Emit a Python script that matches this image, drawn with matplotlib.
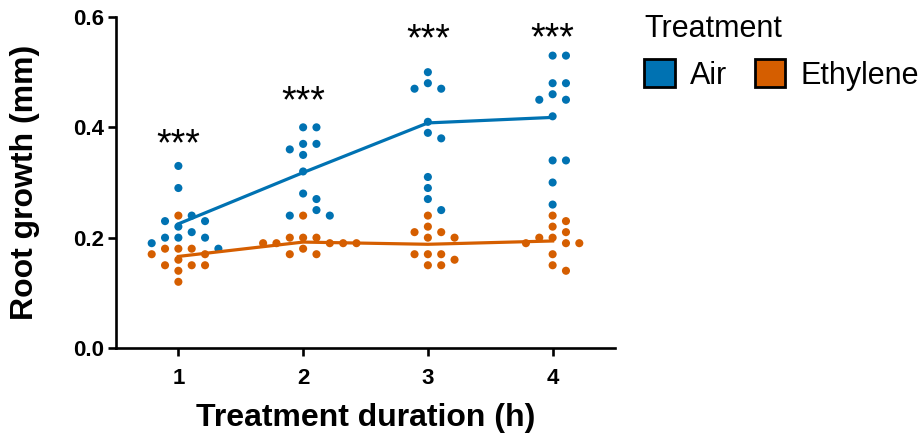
import numpy as np
import matplotlib
matplotlib.use("Agg")
import matplotlib.pyplot as plt
from matplotlib.patches import Patch

# ---- data ----
durations = [1, 2, 3, 4]
air = [
    [0.33, 0.29, 0.24, 0.23, 0.23, 0.22, 0.21, 0.20, 0.20, 0.20, 0.19, 0.18],
    [0.40, 0.40, 0.37, 0.37, 0.36, 0.35, 0.32, 0.28, 0.27, 0.25, 0.24, 0.24],
    [0.50, 0.48, 0.47, 0.47, 0.41, 0.39, 0.38, 0.31, 0.29, 0.27, 0.25],
    [0.53, 0.53, 0.48, 0.48, 0.46, 0.45, 0.45, 0.42, 0.34, 0.34, 0.30, 0.26],
]
ethylene = [
    [0.24, 0.18, 0.18, 0.18, 0.17, 0.17, 0.16, 0.15, 0.15, 0.15, 0.14, 0.12],
    [0.24, 0.20, 0.20, 0.20, 0.19, 0.19, 0.19, 0.19, 0.19, 0.18, 0.17, 0.17],
    [0.24, 0.22, 0.21, 0.21, 0.20, 0.20, 0.17, 0.17, 0.17, 0.16, 0.15, 0.15],
    [0.24, 0.23, 0.22, 0.21, 0.20, 0.20, 0.19, 0.19, 0.19, 0.17, 0.15, 0.14],
]
air_mean = [0.225, 0.318, 0.408, 0.418]
ethylene_mean = [0.166, 0.192, 0.188, 0.194]
significance = ["***", "***", "***", "***"]
star_y = [0.368, 0.446, 0.558, 0.560]
yticks = [0.0, 0.2, 0.4, 0.6]
series_names = ["Air", "Ethylene"]
colors = ["#0072B2", "#D55E00"]

plt.rcParams['font.family'] = ['Liberation Sans', 'DejaVu Sans']

W, H = 921, 434
fig = plt.figure(figsize=(W / 100, H / 100), dpi=100)
ax = fig.add_axes([116 / W, 1 - 348 / H, (615 - 116) / W, (348 - 17) / H])
ax.set_xlim(0.5, 4.5)
ax.set_ylim(0, 0.6)

# pixel scales for swarm layout
px_per_x = (615 - 116) / 4.0
px_per_y = (348 - 17) / 0.6
dot_d = 11.0       # minimum centre distance (px)
step = 6.67        # horizontal grid step (px)


def swarm(values_by_group):
    """Place points of all groups at one x without overlap (pixel space)."""
    placed = []
    out = []
    for vals in values_by_group:
        offs = []
        for v in sorted(vals, reverse=True):
            ypx = v * px_per_y
            cands = [0]
            for i in range(1, 30):
                cands += [i, -i]
            for c in cands:
                xpx = c * step
                ok = all((xpx - px) ** 2 + (ypx - py) ** 2 >= dot_d ** 2 for px, py in placed)
                if ok:
                    placed.append((xpx, ypx))
                    offs.append((xpx / px_per_x, v))
                    break
        out.append(offs)
    return out


for i, t in enumerate(durations):
    res = swarm([ethylene[i], air[i]])
    for offs, col in zip(res, [colors[1], colors[0]]):
        xs = [t + o for o, v in offs]
        ys = [v for o, v in offs]
        ax.scatter(xs, ys, s=34, color=col, edgecolors='none', zorder=3)

ax.plot(durations, air_mean, color=colors[0], lw=2.3, zorder=4)
ax.plot(durations, ethylene_mean, color=colors[1], lw=2.3, zorder=4)

for t, s, y in zip(durations, significance, star_y):
    ax.text(t, y, s, ha='center', va='center', fontsize=27)

ax.set_xticks(durations)
ax.set_xticklabels([str(d) for d in durations], fontweight='bold', fontsize=16)
ax.set_yticks(yticks)
ax.set_yticklabels([f"{v:.1f}" for v in yticks], fontweight='bold', fontsize=16)
for sp in ['top', 'right']:
    ax.spines[sp].set_visible(False)
for sp in ['left', 'bottom']:
    ax.spines[sp].set_linewidth(1.9)
ax.tick_params(width=1.9, length=5.5, direction='out')
ax.tick_params(axis='x', pad=9)
ax.tick_params(axis='y', pad=3)
ax.set_xlabel("Treatment duration (h)", fontweight='bold', fontsize=23, labelpad=10)
ax.set_ylabel("Root growth (mm)", fontweight='bold', fontsize=23, labelpad=24)

handles = [Patch(facecolor=c, edgecolor='black', linewidth=2.0, label=n)
           for c, n in zip(colors, series_names)]
leg = fig.legend(handles=handles, title="Treatment", loc='upper left',
                 bbox_to_anchor=(638 / W, 1 - 8 / H), ncol=2, frameon=False,
                 fontsize=22, title_fontsize=22, handlelength=1.0, handleheight=1.0,
                 handletextpad=0.5, columnspacing=0.9, borderaxespad=0, borderpad=0.2)
leg._legend_box.align = "left"

fig.savefig("out.png", dpi=100)
